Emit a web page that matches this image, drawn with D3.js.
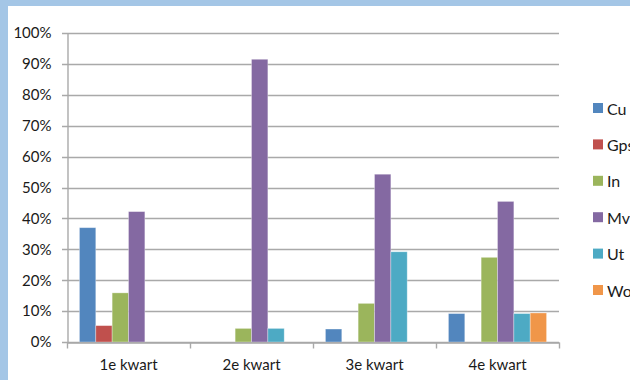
<!DOCTYPE html>
<html>
<head>
<meta charset="utf-8">
<script src="https://cdn.jsdelivr.net/npm/d3@7"></script>
<style>
  body { margin: 0; background: #a4c6e6; overflow: hidden; }
  #chart { position: absolute; left: 8px; top: 6px; width: 622px; height: 374px; background: #fff; }
  svg { position: absolute; left: 0; top: 0; }
</style>
</head>
<body>
<div id="chart"></div>
<script>
const categories = ['1e kwart', '2e kwart', '3e kwart', '4e kwart']
const seriesNames = ['Cu', 'Gps', 'In', 'Mv', 'Ut', 'Wo']
const cu = [0.37, 0, 0.042, 0.092]
const gps = [0.053, 0, 0, 0]
const inn = [0.159, 0.044, 0.125, 0.274]
const mv = [0.422, 0.915, 0.543, 0.455]
const ut = [0, 0.044, 0.292, 0.092]
const wo = [0, 0, 0, 0.094]
const yTicks = [0, 0.1, 0.2, 0.3, 0.4, 0.5, 0.6, 0.7, 0.8, 0.9, 1]
const colors = ['#5286be', '#c0504d', '#9bb55c', '#8469a2', '#4daac4', '#f09649']

const values = [cu, gps, inn, mv, ut, wo]
const data = categories.map((c, i) => ({
  name: c,
  vals: seriesNames.map((s, j) => ({ key: s, value: values[j][i] }))
}))

const width = 630
const height = 380
const margin = { top: 33, right: 71, bottom: 38, left: 67 }

const svg = d3
  .select('body')
  .append('svg')
  .attr('width', width)
  .attr('height', height)
  .attr('font-family', 'Lato, sans-serif')

const xScale = d3
  .scaleBand()
  .domain(categories)
  .range([margin.left, width - margin.right])

const xInner = d3
  .scaleBand()
  .domain(seriesNames)
  .range([0, xScale.bandwidth()])
  .paddingOuter(0.76)

const yScale = d3
  .scaleLinear()
  .domain([0, 1])
  .range([height - margin.bottom, margin.top])

const colorScale = d3.scaleOrdinal().domain(seriesNames).range(colors)

// gridlines
svg
  .append('g')
  .selectAll('line')
  .data(yTicks)
  .join('line')
  .attr('x1', margin.left - 5)
  .attr('x2', width - margin.right)
  .attr('y1', (d) => Math.round(yScale(d)) + 0.5)
  .attr('y2', (d) => Math.round(yScale(d)) + 0.5)
  .attr('stroke', '#a9a9a9')
  .attr('stroke-width', 1.4)

// y axis
const yAxis = d3
  .axisLeft(yScale)
  .tickValues(yTicks)
  .tickFormat(d3.format('.0%'))
  .tickSize(0)
  .tickPadding(16)

svg
  .append('g')
  .attr('transform', `translate(${margin.left + 0.5}, 0)`)
  .call(yAxis)
  .call((g) => g.select('.domain').attr('stroke', '#a9a9a9').attr('stroke-width', 1.4))
  .call((g) => g.selectAll('text').attr('font-size', 15).attr('fill', '#1a1a1a'))
  .attr('font-family', 'Lato, sans-serif')

// bars
const groups = svg
  .append('g')
  .selectAll('g')
  .data(data)
  .join('g')
  .attr('transform', (d) => `translate(${xScale(d.name)}, 0)`)

groups
  .selectAll('rect')
  .data((d) => d.vals.filter((v) => v.value > 0))
  .join('rect')
  .attr('x', (d) => xInner(d.key))
  .attr('width', xInner.bandwidth())
  .attr('y', (d) => yScale(d.value))
  .attr('height', (d) => yScale(0) - yScale(d.value))
  .attr('fill', (d) => colorScale(d.key))
  .attr('stroke', '#fff')
  .attr('stroke-opacity', 0.4)
  .attr('stroke-width', 0.8)

// x axis
const xAxis = d3.axisBottom(xScale).tickSize(0).tickPadding(17)
const xg = svg
  .append('g')
  .attr('transform', `translate(0, ${Math.round(yScale(0)) + 0.5})`)
  .call(xAxis)
  .attr('font-family', 'Lato, sans-serif')
xg.select('.domain').attr('stroke', '#a9a9a9').attr('stroke-width', 1.4)
xg.selectAll('text').attr('font-size', 15).attr('fill', '#1a1a1a')

const bounds = categories.map((c) => xScale(c)).concat([width - margin.right])
xg.selectAll('.sep')
  .data(bounds)
  .join('line')
  .attr('class', 'sep')
  .attr('x1', (d) => Math.round(d) + 0.5)
  .attr('x2', (d) => Math.round(d) + 0.5)
  .attr('y1', 0)
  .attr('y2', 6)
  .attr('stroke', '#a9a9a9')
  .attr('stroke-width', 1.4)

// legend
const legend = svg
  .append('g')
  .attr('transform', 'translate(593, 103)')
  .selectAll('g')
  .data(seriesNames)
  .join('g')
  .attr('transform', (d, i) => `translate(0, ${i * 36.4})`)

legend
  .append('rect')
  .attr('width', 10)
  .attr('height', 10)
  .attr('fill', colorScale)

legend
  .append('text')
  .attr('x', 14)
  .attr('y', 6)
  .attr('dy', '0.35em')
  .attr('font-size', 16)
  .attr('fill', '#1a1a1a')
  .text((d) => d)
</script>
</body>
</html>
